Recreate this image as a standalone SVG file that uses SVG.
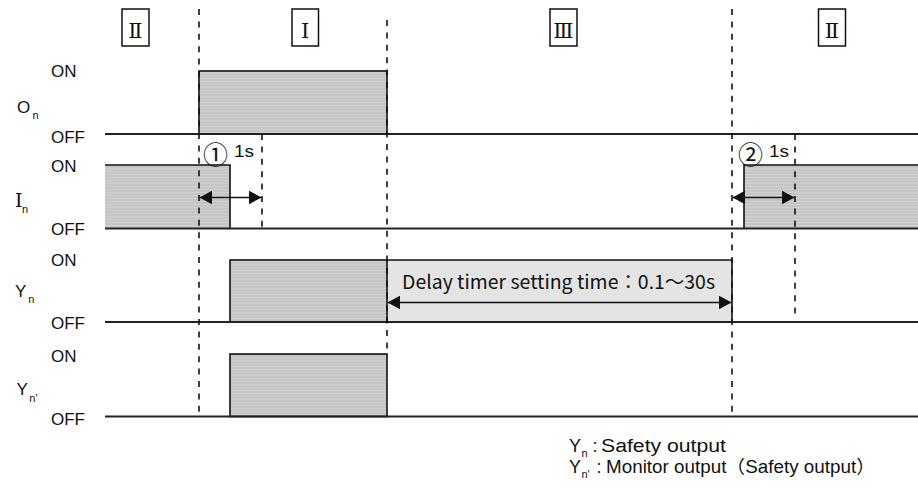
<svg xmlns="http://www.w3.org/2000/svg" width="918" height="495" viewBox="0 0 918 495">
<style>
.lbl{font-family:"Liberation Sans",Arial,sans-serif;font-size:17px;fill:#111}
.sub{font-family:"Liberation Sans",Arial,sans-serif;font-size:11px;fill:#111}
.jp{font-family:"Noto Sans CJK JP",sans-serif;fill:#111}
.leg{font-family:"Liberation Sans","Noto Sans CJK JP",sans-serif;font-size:18px;fill:#111}
.cj{font-family:"Noto Sans CJK JP",sans-serif;font-size:14px}
.rom{font-family:"DejaVu Serif",serif;font-size:21px;fill:#111;text-anchor:middle}
.box{fill:#fff;stroke:#111;stroke-width:1.5}
.sig{fill:url(#hatch);stroke:#111;stroke-width:1.6}
.edge{fill:none;stroke:#111;stroke-width:1.6}
.base{stroke:#222;stroke-width:2;fill:none}
.dash{stroke:#111;stroke-width:1.6;stroke-dasharray:6 6.4;fill:none}
.arr{stroke:#111;stroke-width:1.6;fill:none;marker-start:url(#ah);marker-end:url(#ah)}
</style>
<defs>
<pattern id="hatch" width="4" height="3" patternUnits="userSpaceOnUse">
<rect width="4" height="3" fill="#c5c5c5"/>
<rect width="4" height="1" fill="#d0d0d0"/>
</pattern>
<marker id="ah" markerUnits="userSpaceOnUse" markerWidth="13" markerHeight="14" viewBox="0 0 12 13" refX="11.5" refY="6.5" orient="auto-start-reverse">
<path d="M0,0 L12,6.5 L0,13 z" fill="#111"/>
</marker>
</defs>

<g id="phases">
<g id="phase-II-a"><rect class="box" x="122" y="9" width="27" height="37"/><text class="rom" x="135.5" y="37.5">Ⅱ</text></g>
<g id="phase-I"><rect class="box" x="292" y="9" width="26.5" height="37"/><text class="rom" x="305.2" y="37.5">Ⅰ</text></g>
<g id="phase-III"><rect class="box" x="550" y="9" width="27" height="37"/><text class="rom" x="563.5" y="37.5">Ⅲ</text></g>
<g id="phase-II-b"><rect class="box" x="818.5" y="9" width="27" height="37"/><text class="rom" x="832" y="37.5">Ⅱ</text></g>
</g>

<g id="signal-On">
<rect class="sig" x="199" y="71" width="188" height="63"/>
<line class="base" x1="105" y1="134" x2="918" y2="134"/>
<text class="lbl" x="51" y="77">ON</text>
<text class="lbl" x="51" y="142.5">OFF</text>
<text class="lbl" x="17" y="113">O<tspan class="sub" x="32.5" y="119">n</tspan></text>
</g>

<g id="signal-In">
<rect x="105" y="165" width="125" height="63.5" fill="url(#hatch)"/>
<path class="edge" d="M105,165 H230 V228.5"/>
<rect x="744" y="165" width="174" height="63.5" fill="url(#hatch)"/>
<path class="edge" d="M744,228.5 V165 H918"/>
<line class="base" x1="105" y1="228.5" x2="918" y2="228.5"/>
<text class="lbl" x="51" y="172">ON</text>
<text class="lbl" x="51" y="235">OFF</text>
<text x="15" y="207" font-family="DejaVu Serif,serif" font-size="19" fill="#111">I<tspan class="sub" x="22" y="213">n</tspan></text>
</g>

<g id="signal-Yn">
<rect x="387" y="260" width="345" height="62" fill="#e4e4e4"/>
<path class="edge" d="M387,260 H732 V322"/>
<rect class="sig" x="230" y="260" width="157" height="62"/>
<line class="base" x1="105" y1="322" x2="918" y2="322"/>
<text class="lbl" x="51" y="266">ON</text>
<text class="lbl" x="51" y="328.5">OFF</text>
<text class="lbl" x="15" y="297">Y<tspan class="sub" x="28.3" y="303.3">n</tspan></text>
<text class="jp" x="402" y="289" font-size="19" textLength="313" lengthAdjust="spacingAndGlyphs">Delay timer setting time：0.1～30s</text>
</g>

<g id="signal-Yn2">
<rect class="sig" x="230" y="354" width="157" height="62.5"/>
<line class="base" x1="105" y1="416.5" x2="918" y2="416.5"/>
<text class="lbl" x="51" y="362">ON</text>
<text class="lbl" x="51" y="425">OFF</text>
<text class="lbl" x="16.5" y="395">Y<tspan class="sub" x="29.3" y="402.3">n'</tspan></text>
</g>

<g id="connectors">
<line class="dash" x1="199" y1="9" x2="199" y2="413"/>
<line class="dash" x1="387" y1="20" x2="387" y2="354"/>
<line class="dash" x1="732" y1="9" x2="732" y2="413"/>
<line class="dash" x1="262" y1="134" x2="262" y2="228"/>
<line class="dash" x1="795" y1="134" x2="795" y2="320"/>
<line class="arr" x1="200" y1="197.5" x2="261" y2="197.5"/>
<line class="arr" x1="733" y1="197.5" x2="794" y2="197.5"/>
<line class="arr" x1="388" y1="302.5" x2="731" y2="302.5"/>
</g>

<g id="timing-labels">
<text class="jp" x="203" y="164" font-size="25">①</text>
<text class="lbl" x="234" y="157" font-size="17" textLength="20" lengthAdjust="spacingAndGlyphs">1s</text>
<text class="jp" x="738" y="164" font-size="25">②</text>
<text class="lbl" x="769" y="157" font-size="17" textLength="20" lengthAdjust="spacingAndGlyphs">1s</text>
</g>

<g id="legend">
<text class="leg" x="569" y="451.5">Y<tspan class="sub" x="581.5" y="457">n</tspan><tspan class="cj" x="588" y="451.5">：</tspan><tspan x="601" textLength="125" lengthAdjust="spacingAndGlyphs">Safety output</tspan></text>
<text class="leg" x="569" y="472.5">Y<tspan class="sub" x="581.5" y="478">n'</tspan><tspan class="cj" x="592" y="472.5">：</tspan><tspan x="606" textLength="269" lengthAdjust="spacingAndGlyphs">Monitor output（Safety output）</tspan></text>
</g>
</svg>
